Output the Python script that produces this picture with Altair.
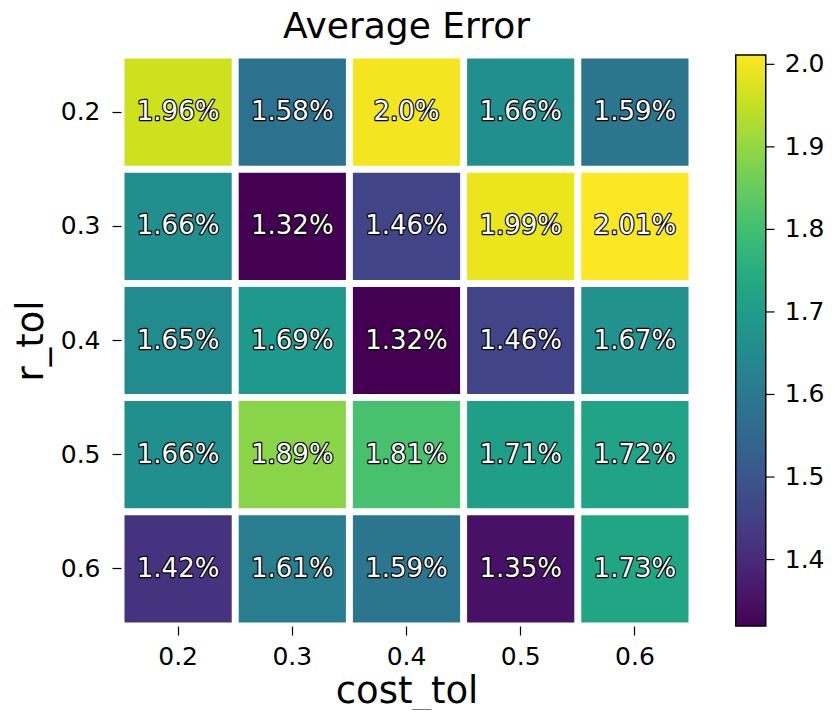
import altair as alt
import pandas as pd

r_tol = ["0.2", "0.3", "0.4", "0.5", "0.6"]
cost_tol = ["0.2", "0.3", "0.4", "0.5", "0.6"]
err_02 = [1.96, 1.58, 2.0, 1.66, 1.59]
err_03 = [1.66, 1.32, 1.46, 1.99, 2.01]
err_04 = [1.65, 1.69, 1.32, 1.46, 1.67]
err_05 = [1.66, 1.89, 1.81, 1.71, 1.72]
err_06 = [1.42, 1.61, 1.59, 1.35, 1.73]
color_ticks = [1.4, 1.5, 1.6, 1.7, 1.8, 1.9, 2.0]
color_domain = [1.3195, 2.0113]

rows_vals = [err_02, err_03, err_04, err_05, err_06]
records = []
for r, vals in zip(r_tol, rows_vals):
    for c, v in zip(cost_tol, vals):
        records.append({"r_tol": r, "cost_tol": c, "err": v, "label": f"{v}%"})
df = pd.DataFrame(records)
tick_df = pd.DataFrame({"t": color_ticks})

FONT = "DejaVu Sans"
W = 571
H = 571

xenc = alt.X(
    "cost_tol:O", sort=cost_tol,
    scale=alt.Scale(paddingInner=0.061, paddingOuter=0.0305),
    axis=alt.Axis(title="cost_tol", labelAngle=0, labelFontSize=25, titleFontSize=37,
                  tickSize=9, labelPadding=9, titlePadding=4, domain=False,
                  tickColor="black", labelColor="black", titleColor="black",
                  labelFont=FONT, titleFont=FONT, titleFontWeight="normal", tickWidth=1.2),
)
yenc = alt.Y(
    "r_tol:O", sort=r_tol,
    scale=alt.Scale(paddingInner=0.061, paddingOuter=0.0305),
    axis=alt.Axis(title="r_tol", labelFontSize=25, titleFontSize=37,
                  tickSize=9, labelPadding=12, titlePadding=10, domain=False,
                  tickColor="black", labelColor="black", titleColor="black",
                  labelFont=FONT, titleFont=FONT, titleFontWeight="normal", tickWidth=1.2),
)

base = alt.Chart(df)

heat = base.mark_rect().encode(
    x=xenc, y=yenc,
    color=alt.Color(
        "err:Q",
        scale=alt.Scale(scheme="viridis", domain=color_domain, nice=False, zero=False),
        legend=alt.Legend(
            title=None, orient="none", legendX=614.75, legendY=0, direction="vertical",
            gradientLength=H, gradientThickness=30, values=color_ticks, format=".1f",
            labelFontSize=25, labelOffset=19, labelFont=FONT, labelColor="black",
            gradientStrokeColor="black", gradientStrokeWidth=1.5, labelOverlap=False,
            labelLimit=200,
        ),
    ),
)

outline = base.mark_text(fontSize=26, font=FONT, color="black", stroke="black",
                         strokeWidth=2.4, strokeJoin="round").encode(
    x=alt.X("cost_tol:O", sort=cost_tol), y=alt.Y("r_tol:O", sort=r_tol), text="label:N"
)
fill = base.mark_text(fontSize=26, font=FONT, color="white").encode(
    x=alt.X("cost_tol:O", sort=cost_tol), y=alt.Y("r_tol:O", sort=r_tol), text="label:N"
)

grid = alt.layer(heat, outline, fill)

cticks = alt.Chart(tick_df).mark_rule(color="black", strokeWidth=1.2).encode(
    y=alt.Y("t:Q", scale=alt.Scale(domain=color_domain, nice=False, zero=False), axis=None),
    x=alt.value(644.75),
    x2=alt.value(653.5),
)

chart = alt.layer(grid, cticks).resolve_scale(y="independent").properties(
    width=W, height=H,
    title=alt.Title("Average Error", fontSize=36, font=FONT, fontWeight="normal",
                    color="black", offset=9, anchor="middle"),
    autosize=alt.AutoSizeParams(type="none"),
    padding={"left": 113, "top": 47, "right": 135, "bottom": 84},
).configure_view(stroke=None)

chart.save("out.html", embed_options={"renderer": "svg", "actions": False})
